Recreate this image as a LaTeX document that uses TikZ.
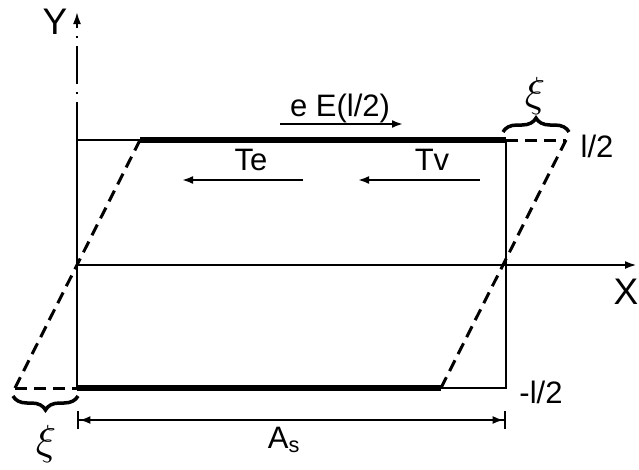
\documentclass[tikz,border=0pt]{standalone}
\usepackage{fontspec}
\usepackage{graphicx}
\setmainfont{Liberation Sans}
\usetikzlibrary{arrows.meta,decorations.pathreplacing}
\tikzset{
  thin line/.style={line width=2.6pt},
  thick line/.style={line width=6pt},
  dashline/.style={line width=3pt, dash pattern=on 12pt off 7pt},
  force/.style={line width=2.2pt, -{Latex[length=11pt,width=8pt]}},
  lbl/.style={font=\fontsize{31}{36}\selectfont, inner sep=0pt},
  axlbl/.style={font=\fontsize{37}{42}\selectfont, inner sep=0pt},
  brc/.style={line width=3.5pt, decorate, decoration={brace, amplitude=14pt}},
}
\begin{document}
\begin{tikzpicture}[x=1pt,y=-1pt]
\useasboundingbox (0,0) rectangle (639,469);
% corner coordinates
\coordinate (TL) at (77,140);
\coordinate (TR) at (506,140);
\coordinate (BL) at (77,388);
\coordinate (BR) at (506,388);
\coordinate (O) at (77,265);
\coordinate (XE) at (637,265);
\coordinate (YE) at (77,12);
\coordinate (PTL) at (140,140);
\coordinate (PTR) at (566,140);
\coordinate (PBL) at (15,388);
\coordinate (PBR) at (441,388);
% axes
\draw[line width=2pt, dash pattern=on 38pt off 8pt on 2pt off 8pt, -{Latex[length=12pt,width=8pt]}] (TL) -- (YE);
\draw[thin line, -{Latex[length=12pt,width=8pt]}] (O) -- (XE);
% rectangle
\draw[thin line] (BL) -- (TL) -- (PTL);
\draw[thin line] (PBR) -- (BR) -- (TR);
% thick lines
\draw[thick line] (PTL) -- (TR);
\draw[thick line] (BL) -- (PBR);
% dashed parallelogram parts
\draw[dashline] (TR) -- (PTR);
\draw[dashline] (PBL) -- (BL);
\draw[dashline] (PBL) -- (PTL);
\draw[dashline] (PBR) -- (PTR);
% braces
\draw[brc] (503,132) -- (569,132);
\draw[brc] (78,396) -- (13,396);
\node[inner sep=0pt] (xi1) at (535,96) {\scalebox{4.2}{$\xi$}};
\node[inner sep=0pt] (xi2) at (46,444) {\scalebox{4.2}{$\xi$}};
% dimension
\coordinate (DL) at (77,420);
\coordinate (DR) at (506,420);
\draw[line width=2pt, {Bar[width=18pt,line width=2.4pt]Latex[length=11pt,width=8pt]}-{Latex[length=11pt,width=8pt]Bar[width=18pt,line width=2.4pt]}] (DL) -- (DR);
\node[lbl] (As) at (284,440) {A\textsubscript{s}};
% labels
\node[lbl] (l2) at (597,146) {l/2};
\node[lbl] (ml2) at (541,392) {-l/2};
\node[axlbl] (Y) at (55,22) {Y};
\node[axlbl] (X) at (626,292) {X};
\node[lbl, anchor=base] (eE) at (340,116) {e E(l/2)};
\node[lbl] (Te) at (251,160) {Te};
\node[lbl] (Tv) at (432,160) {Tv};
% forces
\coordinate (eE1) at (280,124);
\coordinate (eE2) at (403,124);
\coordinate (Te1) at (303,180);
\coordinate (Te2) at (182,180);
\coordinate (Tv1) at (480,180);
\coordinate (Tv2) at (358,180);
\draw[force] (eE1) -- (eE2);
\draw[force] (Te1) -- (Te2);
\draw[force] (Tv1) -- (Tv2);
\end{tikzpicture}
\end{document}
